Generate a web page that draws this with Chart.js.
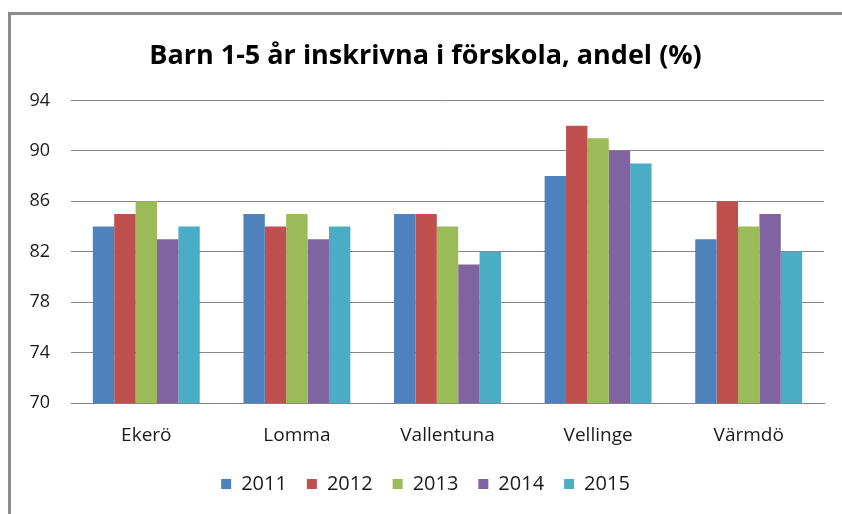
<!DOCTYPE html>
<html>
<head>
<meta charset="utf-8">
<script src="https://cdn.jsdelivr.net/npm/chart.js@4/dist/chart.umd.min.js"></script>
<style>
html,body{margin:0;padding:0;background:#fff;overflow:hidden;}
#frame{position:absolute;left:8px;top:12px;width:900px;height:600px;border-left:3px solid #8c8c8c;border-top:3px solid #8c8c8c;}
#wrap{position:absolute;left:11px;top:15px;width:836px;height:499px;}
</style>
</head>
<body>
<div id="frame"></div>
<div id="wrap"><canvas id="c"></canvas></div>
<script>
const categories = ["Ekerö", "Lomma", "Vallentuna", "Vellinge", "Värmdö"];
const years = ["2011", "2012", "2013", "2014", "2015"];
const v2011 = [84, 85, 85, 88, 83];
const v2012 = [85, 84, 85, 92, 86];
const v2013 = [86, 85, 84, 91, 84];
const v2014 = [83, 83, 81, 90, 85];
const v2015 = [84, 84, 82, 89, 82];
const yTicks = [70, 74, 78, 82, 86, 90, 94];
const colors = ["#4F81BD", "#C0504D", "#9BBB59", "#8064A2", "#4BACC6"];
const series = [v2011, v2012, v2013, v2014, v2015];

const FONT = "'Open Sans', 'DejaVu Sans', sans-serif";
new Chart(document.getElementById('c'), {
  type: 'bar',
  data: {
    labels: categories,
    datasets: series.map((d, i) => ({
      label: years[i],
      data: d,
      backgroundColor: colors[i],
      borderWidth: 0,
      barPercentage: 1.0,
      categoryPercentage: 0.71
    }))
  },
  options: {
    responsive: true,
    maintainAspectRatio: false,
    animation: false,
    layout: { padding: { left: 16, right: 23, top: 0, bottom: 10 } },
    plugins: {
      title: {
        display: true,
        text: 'Barn 1-5 år inskrivna i förskola, andel (%)',
        color: '#000',
        font: { family: FONT, size: 27, weight: 'bold' },
        padding: { top: 25, bottom: 28 }
      },
      legend: {
        position: 'bottom',
        labels: {
          color: '#1a1a1a',
          font: { family: FONT, size: 20 },
          boxWidth: 10,
          boxHeight: 10,
          padding: 20
        }
      },
      tooltip: { enabled: false }
    },
    scales: {
      x: {
        grid: { display: false, drawTicks: false },
        border: { display: true, color: '#868686', width: 1 },
        afterFit: (s) => { s.height -= 14; },
        ticks: { color: '#1a1a1a', font: { family: FONT, size: 19 }, padding: 21 }
      },
      y: {
        min: 70, max: 94,
        afterBuildTicks: (s) => { s.ticks = yTicks.map(v => ({ value: v })); },
        afterFit: (s) => { s.width = 44; },
        grid: { color: '#868686', drawTicks: false, lineWidth: 1 },
        border: { display: false },
        ticks: { color: '#1a1a1a', font: { family: FONT, size: 18 }, padding: 21 }
      }
    }
  }
});
</script>
</body>
</html>
